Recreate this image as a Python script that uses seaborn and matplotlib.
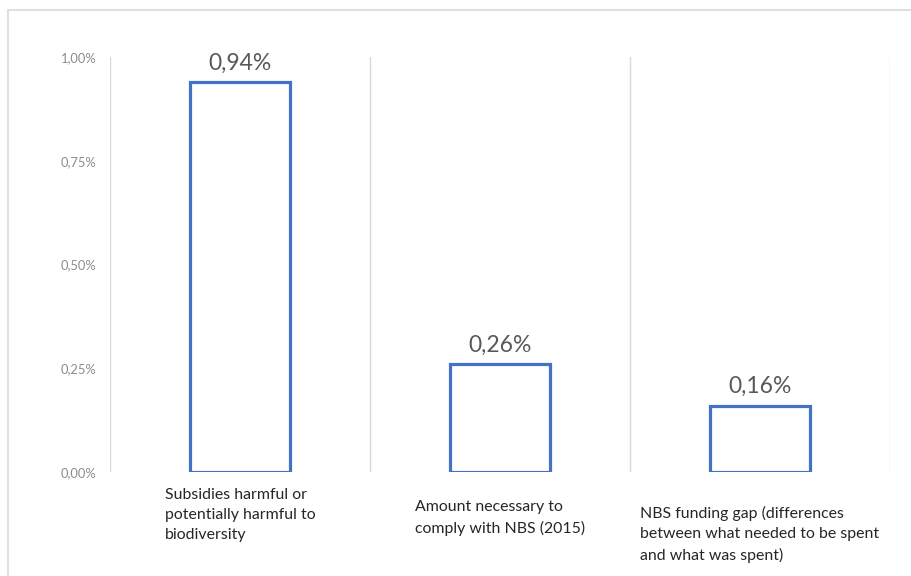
import matplotlib
matplotlib.use("Agg")
import matplotlib.pyplot as plt
import seaborn as sns
from matplotlib.lines import Line2D

categories = [
    "Subsidies harmful or\npotentially harmful to\nbiodiversity",
    "Amount necessary to\ncomply with NBS (2015)",
    "NBS funding gap (differences\nbetween what needed to be spent\nand what was spent)",
]
values = [0.94, 0.26, 0.16]
yticks = [0.0, 0.25, 0.50, 0.75, 1.00]

sns.set_theme(style="white")
plt.rcParams["font.family"] = ["Lato", "DejaVu Sans"]

W, H = 912, 576
fig = plt.figure(figsize=(W / 100, H / 100), dpi=100)
ax = fig.add_axes([110 / W, 1 - 472 / H, 780 / W, 415 / H])

sns.barplot(x=list(range(len(values))), y=values, color="white",
            edgecolor="#4472C4", linewidth=2.3, width=0.385, ax=ax, zorder=3)

ax.set_xlim(-0.5, len(values) - 0.5)
ax.set_ylim(0, 1.0)
for s in ax.spines.values():
    s.set_visible(False)

# vertical category separators
for xb in [i - 0.5 for i in range(len(values) + 1)]:
    ax.axvline(xb, color="#d9d9d9", linewidth=1.0, zorder=1)

ax.set_yticks(yticks)
ax.set_yticklabels([f"{t:.2f}".replace(".", ",") + "%" for t in yticks],
                   fontsize=9.3, color="#8c8c8c")
ax.tick_params(axis="y", length=0, pad=9.5)
ax.set_xticks([])
ax.set_xlabel("")
ax.set_ylabel("")

# data labels
for i, v in enumerate(values):
    ax.annotate(f"{v:.2f}".replace(".", ",") + "%", (i, v),
                xytext=(0, 6), textcoords="offset points",
                ha="center", va="bottom", fontsize=16.5, color="#595959")

# category labels
label_tops = [488, 500, 506]
for i, (c, top) in enumerate(zip(categories, label_tops)):
    fig.text((110 + 260 * i + 130) / W, 1 - top / H, c, ha="center", va="top",
             multialignment="left", fontsize=11.4, color="#262626",
             linespacing=1.55)

# figure border (top and left)
fig.add_artist(Line2D([8 / W, 1], [1 - 9.5 / H, 1 - 9.5 / H], color="#d9d9d9",
                      linewidth=1.2, transform=fig.transFigure))
fig.add_artist(Line2D([8 / W, 8 / W], [0, 1 - 9.5 / H], color="#d9d9d9",
                      linewidth=1.2, transform=fig.transFigure))

fig.savefig("out.png", dpi=100, facecolor="white")
